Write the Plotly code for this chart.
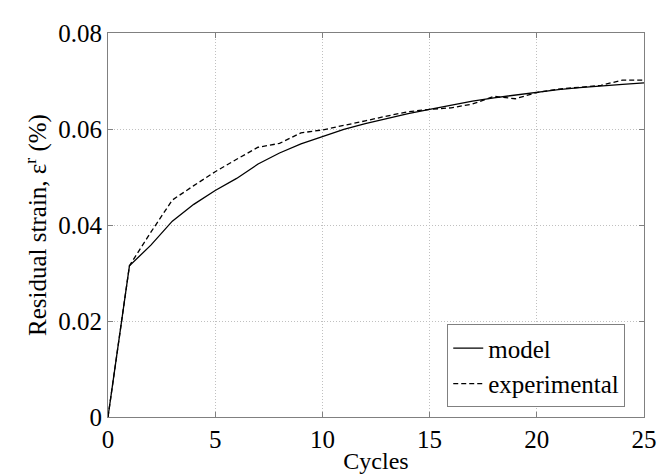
import plotly.graph_objects as go

# Ciclos e deformação residual (%)
ciclos = list(range(0, 26))

modelo = [0, 0.0315, 0.0358, 0.0408, 0.0443, 0.0472, 0.0497, 0.0527, 0.0550,
          0.0569, 0.0584, 0.0599, 0.0611, 0.0622, 0.0632, 0.0641, 0.0650,
          0.0658, 0.0665, 0.0671, 0.0677, 0.0682, 0.0686, 0.0690, 0.0693, 0.0696]

experimental = [0, 0.0315, 0.0385, 0.0452, 0.0482, 0.0511, 0.0537, 0.0562, 0.0570,
                0.0592, 0.0598, 0.0607, 0.0617, 0.0627, 0.0636, 0.0641, 0.0644,
                0.0652, 0.0668, 0.0663, 0.0676, 0.0683, 0.0687, 0.0691, 0.0702, 0.0702]

familia = "Liberation Serif, Times New Roman, serif"
fonte = dict(family=familia, size=25, color="black")

fig = go.Figure()

fig.add_trace(go.Scatter(
    x=ciclos, y=modelo, mode="lines", name="model",
    line=dict(color="black", width=1.3)
))

fig.add_trace(go.Scatter(
    x=ciclos, y=experimental, mode="lines", name="experimental",
    line=dict(color="black", width=1.3, dash="5px,3px")
))

eixo = dict(
    showline=True, linecolor="#808080", linewidth=1, mirror="ticks",
    ticks="inside", ticklen=5, tickcolor="#808080",
    showgrid=True, gridcolor="#c0c0c0", griddash="1px,2px", gridwidth=1,
    zeroline=False, tickfont=fonte,
)

fig.update_xaxes(eixo, range=[0, 25], tickvals=[0, 5, 10, 15, 20, 25],
                 title=dict(text="Cycles", font=dict(family=familia, size=24, color="black"), standoff=0))
fig.update_yaxes(eixo, range=[0, 0.08], tickvals=[0, 0.02, 0.04, 0.06, 0.08],
                 ticktext=["0", "0.02", "0.04", "0.06", "0.08"],
                 title=dict(text="Residual strain, ε<sup>r</sup> (%)", font=fonte, standoff=4))

fig.update_layout(
    width=667, height=474,
    margin=dict(l=100, r=31, t=15, b=64),
    plot_bgcolor="white", paper_bgcolor="white",
    font=fonte,
    showlegend=True,
    legend=dict(
        x=0.965, y=0.025, xanchor="right", yanchor="bottom",
        bgcolor="white", bordercolor="#808080", borderwidth=1,
        font=dict(family=familia, size=25, color="black"),
        itemwidth=30, tracegroupgap=0,
    ),
)

fig.write_html("out.html")
